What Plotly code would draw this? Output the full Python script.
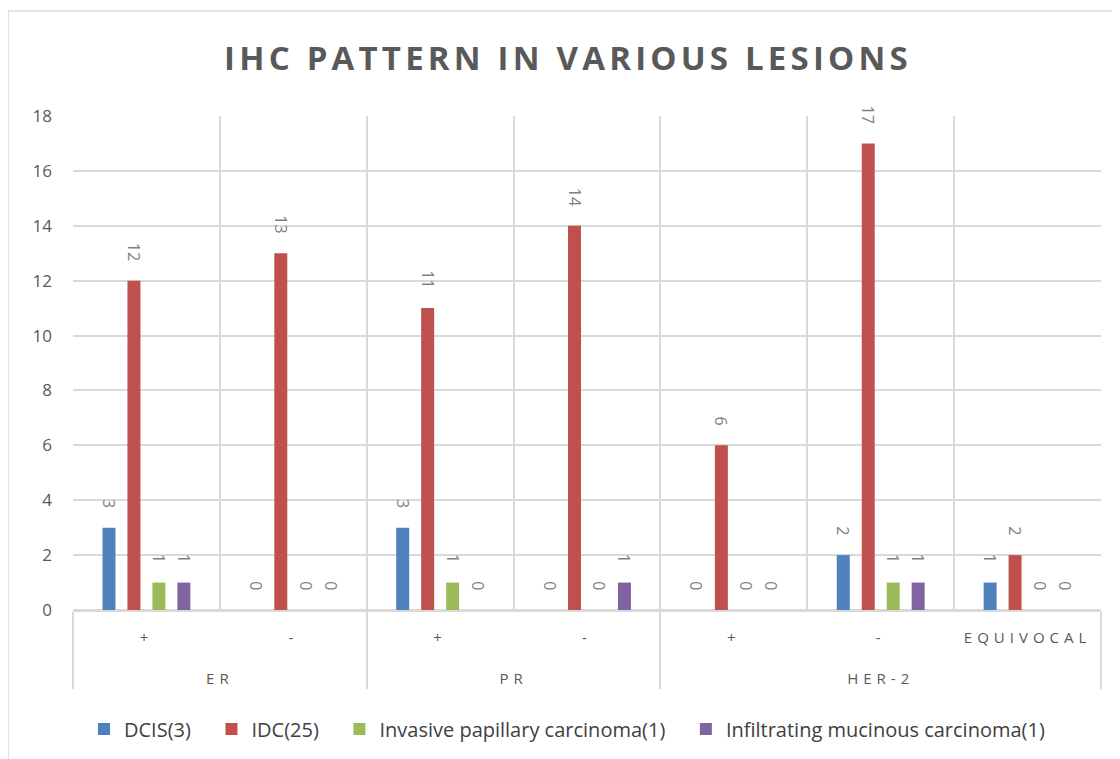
import plotly.graph_objects as go

groups = ["ER", "ER", "PR", "PR", "HER-2", "HER-2", "HER-2"]
subcats = ["+", "-", "+", "-", "+", "-", "EQUIVOCAL"]

series_names = ["DCIS(3)", "IDC(25)", "Invasive papillary carcinoma(1)", "Infiltrating mucinous carcinoma(1)"]
dcis = [3, 0, 3, 0, 0, 2, 1]
idc = [12, 13, 11, 14, 6, 17, 2]
papillary = [1, 0, 1, 0, 0, 1, 0]
mucinous = [1, 0, 0, 1, 0, 1, 0]
colors = ["#4F81BD", "#C0504D", "#9BBB59", "#8064A2"]

y_ticks = list(range(0, 19, 2))


def spaced(s, px, extra=""):
    return f"<span style='letter-spacing:{px}px;{extra}'>{s}</span>"


x_groups = ["<br><br>" + spaced(g, 5, "baseline-shift:7px") for g in groups]
x_sub = ["<br>" + spaced(s, 5) for s in subcats]

FONT = "Open Sans, Liberation Sans, sans-serif"
OFF = 8  # page body margin
W, H = 1120 - OFF, 759 - OFF
L, R, T = 73 - OFF, 1120 - 1101, 116 - OFF
pw = W - L - R
ph = 610 - 116
B = H - T - ph

fig = go.Figure()
for name, vals, col in zip(series_names, [dcis, idc, papillary, mucinous], colors):
    fig.add_trace(go.Bar(
        x=[x_groups, x_sub], y=vals, name=name + "\u00a0" * 3,
        marker=dict(color=col, line=dict(width=0)),
        text=[str(v) + "\u00a0" * 4 for v in vals], textposition="outside",
        textangle=90, cliponaxis=False, constraintext="none",
        textfont=dict(family=FONT, size=16, color="#7F7F7F"),
    ))

fig.update_layout(
    width=W, height=H,
    margin=dict(l=L, r=R, t=T, b=B, autoexpand=False),
    paper_bgcolor="white", plot_bgcolor="white",
    barmode="group", bargap=0.32, bargroupgap=0.48,
    title=dict(text="<b>" + spaced("IHC PATTERN IN VARIOUS LESIONS", 4.2) + "</b>", x=(568 - OFF) / W,
               xanchor="center", xref="container",
               y=1 - (58 - OFF) / H, yanchor="middle",
               font=dict(family=FONT, size=33, color="#595959")),
    legend=dict(orientation="h", x=(575 - 73) / pw, xanchor="center", y=-(729 - 610) / ph, yanchor="middle",
                font=dict(family=FONT, size=20, color="#404040"),
                itemwidth=30, traceorder="normal"),
    font=dict(family=FONT, color="#595959"),
)
fig.update_yaxes(range=[0, 18], tickvals=y_ticks, showgrid=True, gridcolor="#D9D9D9", gridwidth=1.5,
                 zeroline=True, zerolinecolor="#D9D9D9", zerolinewidth=1.5,
                 tickfont=dict(size=17, color="#595959"), showline=False, ticks="",
                 ticklabelstandoff=20)
fig.update_xaxes(type="multicategory", tickson="boundaries", showgrid=True, gridcolor="#D9D9D9", gridwidth=1.5,
                 ticks="", showdividers=True, dividercolor="#D9D9D9", dividerwidth=1.5,
                 tickfont=dict(size=15, color="#595959"), showline=True, linecolor="#D9D9D9", linewidth=1.5,
                 ticklabelstandoff=-6)
# outer chart border
fig.add_shape(type="rect", xref="paper", yref="paper",
              x0=(8 - 73) / pw, x1=(1140 - 73) / pw,
              y0=-(780 - 610) / ph, y1=1 + (116 - 11) / ph,
              line=dict(color="#D9D9D9", width=1.5), fillcolor="rgba(0,0,0,0)", layer="below")
fig.write_html("out.html")
